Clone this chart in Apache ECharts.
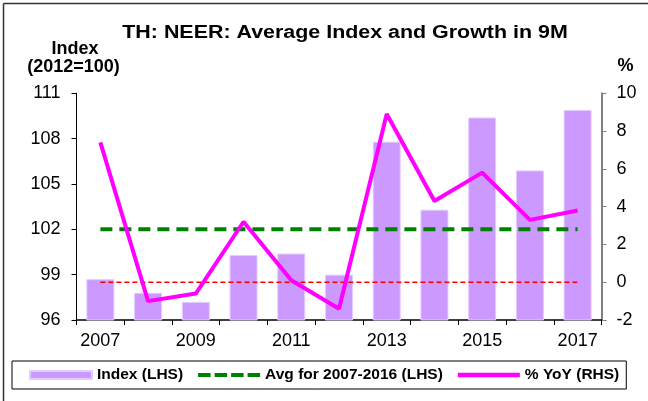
<!DOCTYPE html>
<html>
<head>
<meta charset="utf-8">
<script src="https://cdn.jsdelivr.net/npm/echarts@6/dist/echarts.min.js"></script>
<style>
  html, body { margin: 0; padding: 0; background: #fff; }
  #chart { width: 648px; height: 401px; }
</style>
</head>
<body>
<div id="chart"></div>
<script>
// 数据
const years = ['2007', '2008', '2009', '2010', '2011', '2012', '2013', '2014', '2015', '2016', '2017']
const indexValues = [98.7, 97.8, 97.2, 100.3, 100.4, 99.0, 107.8, 103.3, 109.4, 105.9, 109.9]
const yoyValues = [7.4, -1.0, -0.6, 3.2, 0.1, -1.4, 8.9, 4.3, 5.8, 3.3, 3.8]
const avgIndex = 102.0
const zeroLine = 0

const FONT = 'Liberation Sans, Arial, sans-serif'

// 图例图标 (虚线 / 实线)
const dashIcon = 'path://M0,0h12.5v4h-12.5z M16.5,0h12.5v4h-12.5z M33,0h12.5v4h-12.5z M49.5,0h12.5v4h-12.5z'
const solidIcon = 'path://M0,0h62v4.5h-62z'

const chart = echarts.init(document.getElementById('chart'))

const option = {
    animation: false,
    backgroundColor: '#fff',
    textStyle: { fontFamily: FONT },
    graphic: [
        // 外框 (上、左)
        { type: 'line', shape: { x1: 3.5, y1: 3.5, x2: 648, y2: 3.5 }, style: { stroke: '#333', lineWidth: 1.5 } },
        { type: 'line', shape: { x1: 3.5, y1: 3.5, x2: 3.5, y2: 401 }, style: { stroke: '#333', lineWidth: 1.5 } },
        // 标题 (原图字体略宽)
        {
            type: 'text', x: 345, y: 33, scaleX: 1.19,
            style: { text: 'TH: NEER: Average Index and Growth in 9M', font: 'bold 18px ' + FONT, fill: '#000', align: 'center', verticalAlign: 'middle' }
        },
        { type: 'text', x: 75, y: 49, style: { text: 'Index', font: 'bold 18px ' + FONT, fill: '#000', align: 'center', verticalAlign: 'middle' } },
        { type: 'text', x: 73.5, y: 67.5, style: { text: '(2012=100)', font: 'bold 18px ' + FONT, fill: '#000', align: 'center', verticalAlign: 'middle' } },
        { type: 'text', x: 625.5, y: 66, style: { text: '%', font: 'bold 18px ' + FONT, fill: '#000', align: 'center', verticalAlign: 'middle' } }
    ],
    legend: {
        left: 12,
        top: 361,
        padding: [6, 7, 6, 17],
        itemGap: 15,
        itemWidth: 62,
        itemHeight: 8,
        borderColor: '#000',
        borderWidth: 1,
        textStyle: { fontSize: 15.5, fontWeight: 'bold', color: '#000', fontFamily: FONT },
        data: [
            { name: 'Index (LHS)', icon: 'rect' },
            { name: 'Avg for 2007-2016 (LHS)', icon: dashIcon },
            { name: '% YoY (RHS)', icon: solidIcon }
        ]
    },
    grid: { left: 76.5, right: 46.5, top: 93.3, bottom: 81, containLabel: false },
    xAxis: {
        type: 'category',
        data: years,
        boundaryGap: true,
        axisLine: { onZero: false, lineStyle: { color: '#000', width: 1.5 } },
        axisTick: { show: true, interval: 0, length: 5, lineStyle: { color: '#000' } },
        axisLabel: { interval: 1, fontSize: 18, color: '#000', margin: 12 },
        splitLine: { show: false }
    },
    yAxis: [
        {
            type: 'value',
            min: 96,
            max: 111,
            interval: 3,
            axisLine: { show: true, lineStyle: { color: '#000', width: 1 } },
            axisTick: { show: true, length: 5, lineStyle: { color: '#000' } },
            axisLabel: { fontSize: 18, color: '#000', margin: 16 },
            splitLine: { show: false }
        },
        {
            type: 'value',
            min: -2,
            max: 10,
            interval: 2,
            position: 'right',
            axisLine: { show: true, lineStyle: { color: '#808080', width: 2 } },
            axisTick: { show: true, length: 5, lineStyle: { color: '#808080' } },
            axisLabel: { fontSize: 18, color: '#000', margin: 15 },
            splitLine: { show: false }
        }
    ],
    series: [
        {
            name: 'Index (LHS)',
            type: 'bar',
            yAxisIndex: 0,
            barWidth: 28,
            data: indexValues,
            itemStyle: { color: '#CC99FF', borderColor: '#e3ccff', borderWidth: 1 },
            z: 1
        },
        {
            name: 'Avg for 2007-2016 (LHS)',
            type: 'line',
            yAxisIndex: 0,
            data: years.map(() => avgIndex),
            symbol: 'none',
            lineStyle: { color: '#008000', width: 4, type: [12, 7] },
            itemStyle: { color: '#008000' },
            z: 2
        },
        {
            name: 'zero',
            type: 'line',
            yAxisIndex: 1,
            data: years.map(() => zeroLine),
            symbol: 'none',
            lineStyle: { color: '#FF0000', width: 1.5, type: [5, 3] },
            z: 2
        },
        {
            name: '% YoY (RHS)',
            type: 'line',
            yAxisIndex: 1,
            data: yoyValues,
            symbol: 'none',
            lineStyle: { color: '#FF00FF', width: 4 },
            itemStyle: { color: '#FF00FF' },
            z: 3
        }
    ]
}

chart.setOption(option)
</script>
</body>
</html>
